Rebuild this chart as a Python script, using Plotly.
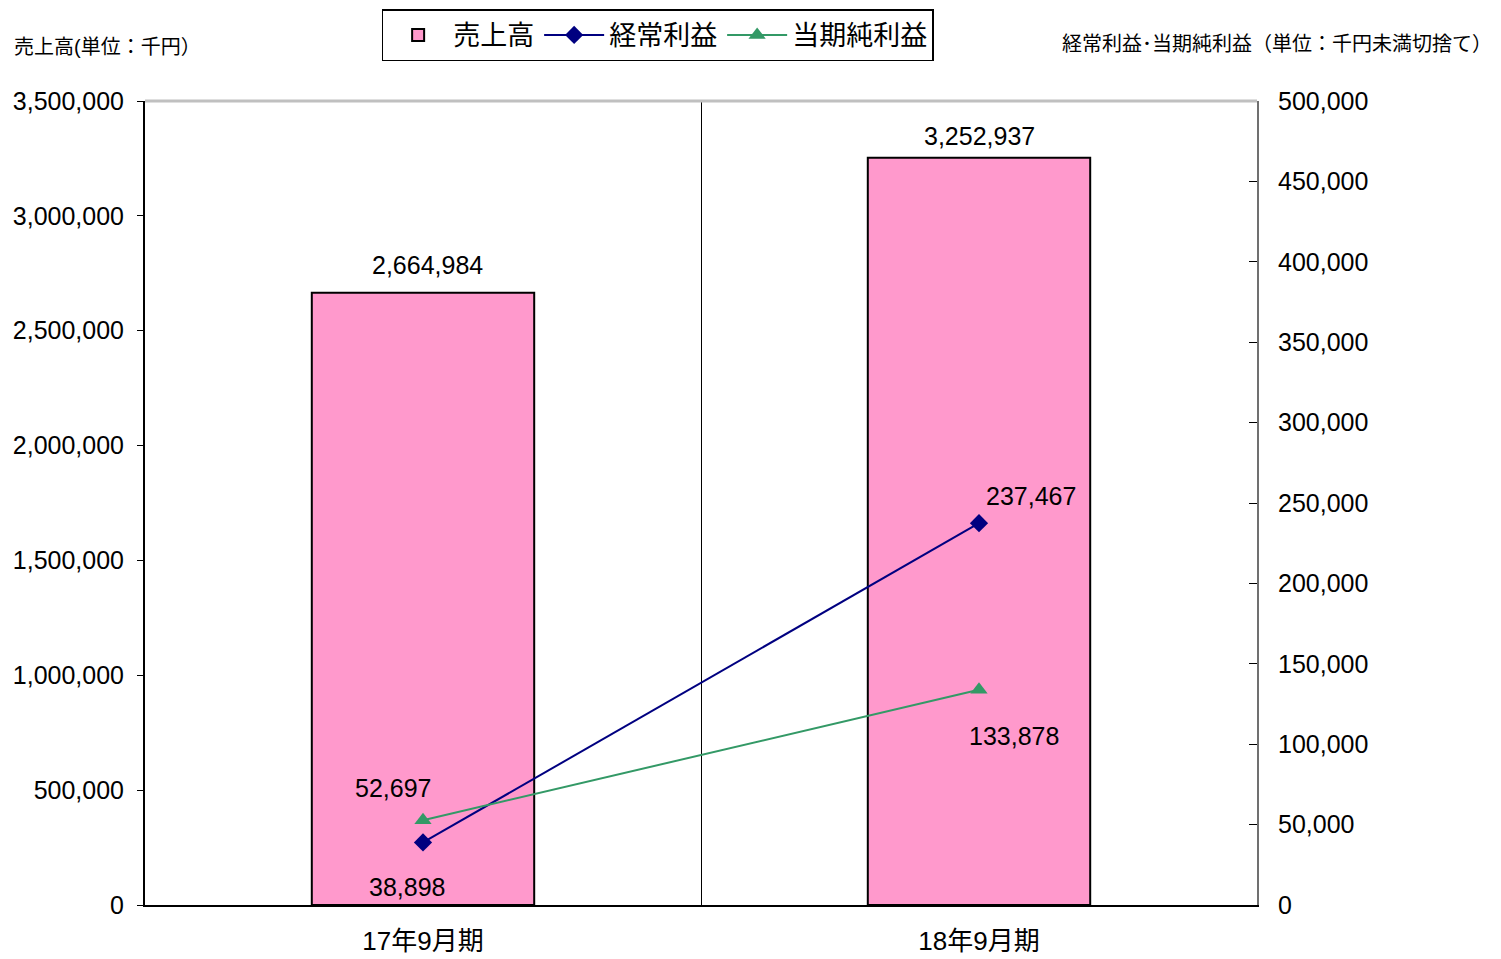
import plotly.graph_objects as go

categories = ["17年9月期", "18年9月期"]
sales = [2664984, 3252937]
ordinary_profit = [38898, 237467]
net_profit = [52697, 133878]
left_ticks = [0, 500000, 1000000, 1500000, 2000000, 2500000, 3000000, 3500000]
right_ticks = [0, 50000, 100000, 150000, 200000, 250000, 300000, 350000, 400000, 450000, 500000]

FONT = "Liberation Sans, Arial, Noto Sans CJK JP, sans-serif"
CJK = "Liberation Sans, Noto Sans CJK JP, sans-serif"

fig = go.Figure()
fig.add_trace(go.Bar(
    x=categories, y=sales, name="売上高",
    marker=dict(color="#FF99CC", line=dict(color="black", width=2)),
    width=0.4,
))
fig.add_trace(go.Scatter(
    x=categories, y=ordinary_profit, name="経常利益", yaxis="y2",
    mode="lines+markers",
    line=dict(color="#000080", width=2),
    marker=dict(symbol="diamond", size=14, color="#000080"),
))
fig.add_trace(go.Scatter(
    x=categories, y=net_profit, name="当期純利益", yaxis="y2",
    mode="lines+markers",
    line=dict(color="#339966", width=2),
    marker=dict(symbol="triangle-up", size=15, color="#339966"),
))

LBL = dict(size=25, color="black", family=FONT)
annotations = []
bar_shift = [(4, 28), (0, 22)]
for i, c in enumerate(categories):
    dx, dy = bar_shift[i]
    annotations.append(dict(x=c, y=sales[i], yref="y", xref="x",
                            text=f"{sales[i]:,}", showarrow=False,
                            yanchor="middle", yshift=dy, xshift=dx, font=LBL))
offsets_op = [(-16, -45), (52, 27)]
offsets_np = [(-30, 32), (35, -46)]
for i, c in enumerate(categories):
    dx, dy = offsets_op[i]
    annotations.append(dict(x=c, y=ordinary_profit[i], yref="y2", xref="x",
                            text=f"{ordinary_profit[i]:,}", showarrow=False,
                            xshift=dx, yshift=dy, font=LBL))
    dx, dy = offsets_np[i]
    annotations.append(dict(x=c, y=net_profit[i], yref="y2", xref="x",
                            text=f"{net_profit[i]:,}", showarrow=False,
                            xshift=dx, yshift=dy, font=LBL))

annotations.append(dict(xref="paper", yref="paper", x=-0.1196, y=1.067,
                        xanchor="left", yanchor="middle", showarrow=False,
                        text="売上高(単位：千円）",
                        font=dict(size=20, color="black", family=CJK)))
annotations.append(dict(xref="paper", yref="paper", x=1.2131, y=1.071,
                        xanchor="right", yanchor="middle", showarrow=False,
                        text="経常利益･当期純利益（単位：千円未満切捨て）",
                        font=dict(size=20, color="black", family=CJK)))

shapes = [
    dict(type="line", xref="paper", yref="paper", x0=0, x1=1, y0=1, y1=1,
         line=dict(color="#C0C0C0", width=3)),
]

fig.update_layout(
    width=1493, height=951,
    margin=dict(l=137, r=244, t=93, b=54, autoexpand=False),
    paper_bgcolor="white", plot_bgcolor="white",
    font=dict(family=FONT, size=25, color="black"),
    showlegend=True,
    legend=dict(orientation="h", x=0.461, y=1.114, xanchor="center", yanchor="top",
                bordercolor="black", borderwidth=1.5,
                font=dict(size=27, family=CJK, color="black"),
                itemwidth=60, tracegroupgap=0),
    xaxis=dict(type="category", showline=True, linecolor="black", linewidth=2,
               tickson="boundaries", showgrid=True, gridcolor="black", gridwidth=1,
               ticks="", ticklabelstandoff=12,
               tickfont=dict(size=26, family=CJK), range=[-0.5, 1.5]),
    yaxis=dict(range=[0, 3500000], tickvals=left_ticks, tickformat=",d",
               showline=True, linecolor="black", linewidth=2,
               ticks="outside", ticklen=6, tickcolor="black",
               ticklabelstandoff=8,
               showgrid=False, zeroline=False, tickfont=dict(size=25)),
    yaxis2=dict(range=[0, 500000], tickvals=right_ticks, tickformat=",d",
                overlaying="y", side="right",
                showline=True, linecolor="#707070", linewidth=2,
                ticks="inside", ticklen=8, tickcolor="black",
                ticklabelstandoff=14,
                showgrid=False, zeroline=False, tickfont=dict(size=25)),
    annotations=annotations,
    shapes=shapes,
)

fig.write_html("out.html")
